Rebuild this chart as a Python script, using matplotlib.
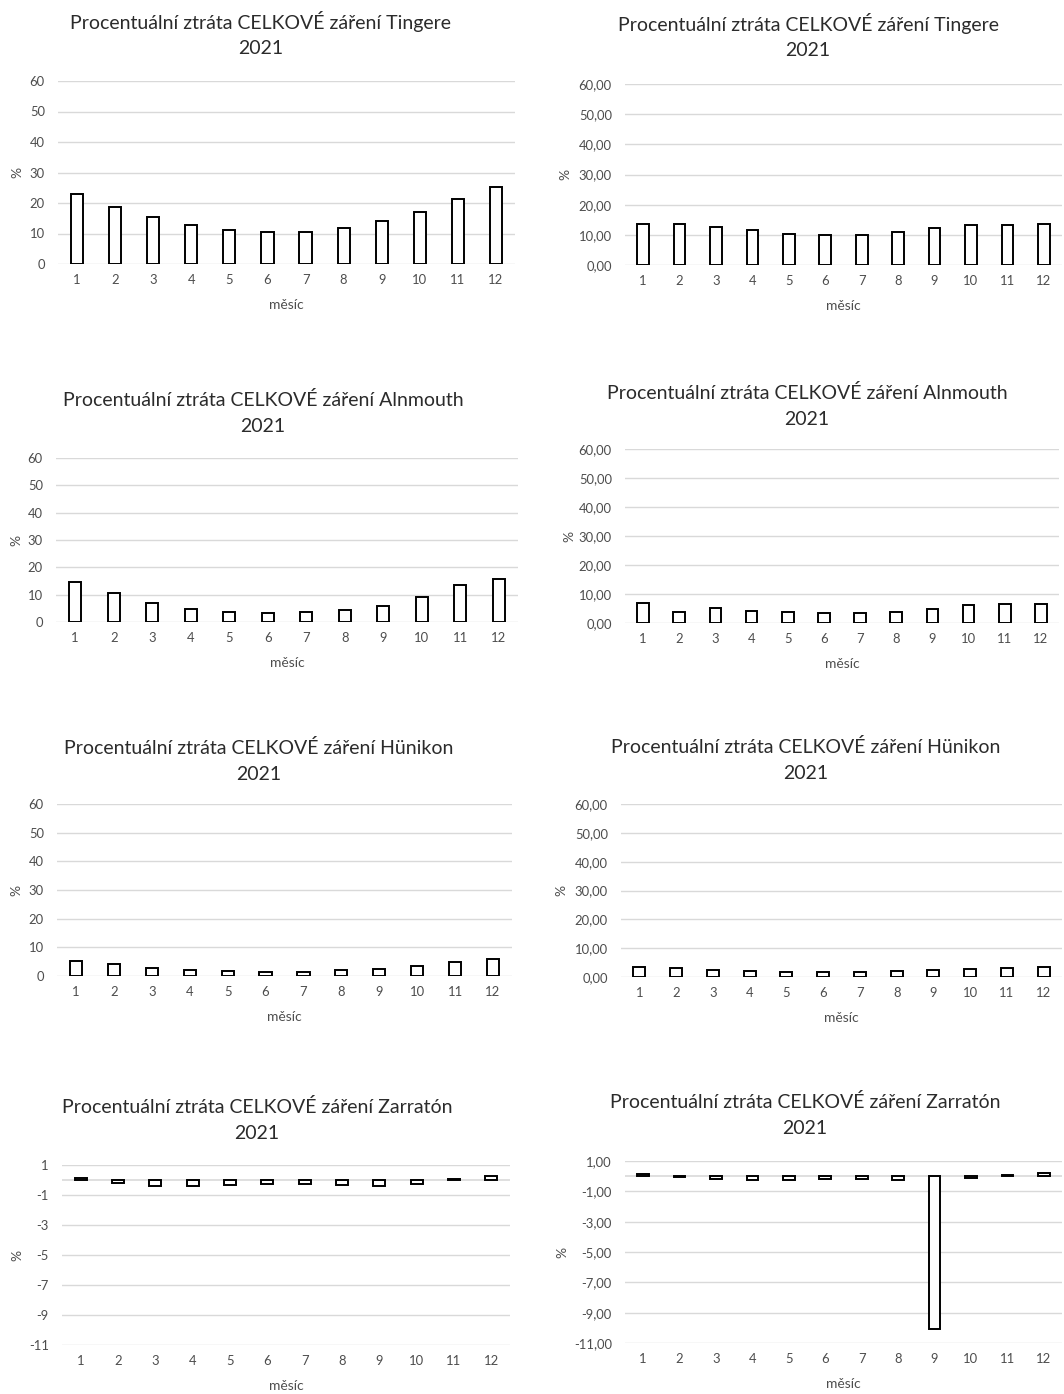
import matplotlib
matplotlib.use("Agg")
import matplotlib.pyplot as plt
from matplotlib.ticker import FuncFormatter

plt.rcParams['font.family'] = ['Lato', 'DejaVu Sans']

# ---------------- data ----------------
months = [1, 2, 3, 4, 5, 6, 7, 8, 9, 10, 11, 12]
month_labels = [str(m) for m in months]

tingere_left = [22.8, 18.6, 15.3, 12.8, 11.1, 10.4, 10.6, 11.8, 14.1, 17.0, 21.3, 25.2]
tingere_right = [13.7, 13.7, 12.6, 11.5, 10.4, 10.0, 10.0, 11.1, 12.1, 13.1, 13.3, 13.7]
alnmouth_left = [14.7, 10.6, 7.0, 4.9, 3.8, 3.3, 3.6, 4.3, 6.0, 9.3, 13.4, 15.8]
alnmouth_right = [6.9, 3.9, 5.2, 4.1, 3.7, 3.4, 3.4, 3.9, 4.9, 6.2, 6.7, 6.7]
hunikon_left = [5.4, 4.2, 2.8, 2.1, 1.9, 1.5, 1.5, 2.1, 2.6, 3.6, 4.9, 5.8]
hunikon_right = [3.3, 3.1, 2.5, 2.0, 1.7, 1.7, 1.7, 2.0, 2.5, 2.8, 3.0, 3.3]
zarraton_left = [0.13, -0.2, -0.4, -0.4, -0.33, -0.29, -0.29, -0.33, -0.4, -0.29, 0.04, 0.24]
zarraton_right = [0.11, -0.04, -0.18, -0.22, -0.22, -0.18, -0.18, -0.22, -10.09, -0.13, 0.09, 0.18]

pos_ticks = [0, 10, 20, 30, 40, 50, 60]
neg_ticks = [1, -1, -3, -5, -7, -9, -11]

title_prefix = "Procentuální ztráta CELKOVÉ záření "
year = "2021"
xlabel = "měsíc"
ylabel = "%"

# ---------------- layout ----------------
W, H = 1064, 1394
fig = plt.figure(figsize=(W / 100, H / 100), dpi=100)
fig.patch.set_facecolor("white")

GRID = "#d9d9d9"
TXT = "#4d4d4d"
TITLE = "#2b2b2b"


def fmt_int(v, p):
    return f"{v:.0f}"


def fmt_dec(v, p):
    return f"{v:.2f}".replace(".", ",").replace("-0,00", "0,00")


panels = [
    # name, data, decimal?, (left, right, top, bottom), ylabel_x, title center x, title y1, ticks
    ("Tingere", tingere_left, False, (58, 515, 81, 264), 17, 261, 22, pos_ticks),
    ("Tingere", tingere_right, True, (625, 1062, 84, 265), 565, 808, 24, pos_ticks),
    ("Alnmouth", alnmouth_left, False, (56, 518, 458, 622), 16, 263, 400, pos_ticks),
    ("Alnmouth", alnmouth_right, True, (625, 1059, 449, 623), 569, 807, 393, pos_ticks),
    ("Hünikon", hunikon_left, False, (57, 512, 804, 976), 16, 259, 748, pos_ticks),
    ("Hünikon", hunikon_right, True, (621, 1062, 804, 977), 561, 806, 747, pos_ticks),
    ("Zarratón", zarraton_left, False, (62, 510, 1165, 1345), 17, 257, 1107, neg_ticks),
    ("Zarratón", zarraton_right, True, (625, 1062, 1161, 1343), 562, 805, 1102, neg_ticks),
]

for name, vals, dec, (l, r, t, b), ylx, tcx, ty, ticks in panels:
    ax = fig.add_axes([l / W, 1 - b / H, (r - l) / W, (b - t) / H])
    ax.set_facecolor("white")
    ax.bar(months, vals, width=0.32, color="white", edgecolor="black",
           linewidth=1.4, zorder=3)
    ax.set_xlim(0.5, 12.5)
    ax.set_ylim(min(ticks), max(ticks))
    ax.set_yticks(ticks)
    ax.yaxis.set_major_formatter(FuncFormatter(fmt_dec if dec else fmt_int))
    ax.set_xticks(months)
    ax.set_xticklabels(month_labels)
    for s in ax.spines.values():
        s.set_visible(False)
    ax.grid(axis="y", color=GRID, linewidth=1.0, zorder=0)
    ax.set_axisbelow(True)
    if min(ticks) < 0:
        ax.axhline(0, color=GRID, linewidth=1.2, zorder=1)
    ax.tick_params(axis="both", length=0, labelsize=9.4, labelcolor=TXT)
    ax.tick_params(axis="x", pad=7)
    ax.tick_params(axis="y", pad=9.5)

    axh = b - t
    axw = r - l
    ax.set_xlabel(xlabel, fontsize=10, color=TXT)
    ax.xaxis.set_label_coords(0.5, -41 / axh)
    ax.xaxis.label.set_va("center")
    ax.set_ylabel(ylabel, fontsize=10, color=TXT)
    ax.yaxis.set_label_coords((ylx - l) / axw, 0.5)
    ax.yaxis.label.set_va("center")

    fig.text(tcx / W, 1 - ty / H, title_prefix + name, ha="center", va="center",
             fontsize=14, color=TITLE)
    fig.text(tcx / W, 1 - (ty + 26.5) / H, year, ha="center", va="center",
             fontsize=14, color=TITLE)

fig.savefig("out.png", dpi=100, facecolor="white")
